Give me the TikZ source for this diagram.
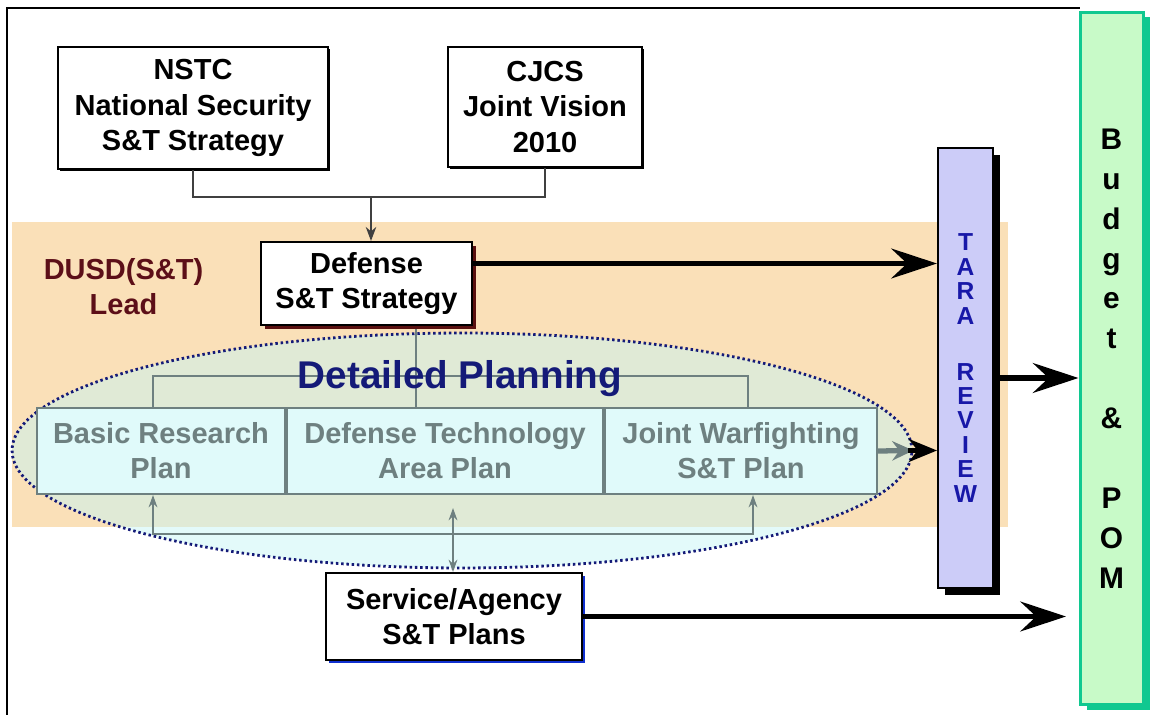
\documentclass[tikz,border=0pt]{standalone}
\usepackage{fontspec}
\setmainfont{Liberation Sans}
\usetikzlibrary{arrows.meta,shapes.geometric,shadows}
\pgfdeclarelayer{bg}
\pgfdeclarelayer{mid}
\pgfsetlayers{bg,mid,main}

\definecolor{peach}{RGB}{250,224,184}
\definecolor{navy}{RGB}{20,26,120}
\definecolor{planfill}{RGB}{224,250,250}
\definecolor{plangray}{RGB}{110,128,128}
\definecolor{lavender}{RGB}{204,204,248}
\definecolor{taratext}{RGB}{24,24,168}
\definecolor{budgetfill}{RGB}{200,250,200}
\definecolor{budgetedge}{RGB}{16,200,144}
\definecolor{leadred}{RGB}{92,15,24}
\definecolor{stratshade}{RGB}{90,16,16}
\definecolor{svcshade}{RGB}{16,48,208}

\tikzset{
	box/.style={draw=black, line width=1.2pt, fill=white, align=center, inner sep=0pt,
		font=\fontsize{16.5}{20}\selectfont\bfseries},
	plan/.style={draw=plangray, line width=1.2pt, fill=planfill, text=plangray, align=center,
		inner sep=0pt, minimum height=1.72cm, font=\fontsize{16.5}{20}\selectfont\bfseries},
	planline/.style={plangray, line width=0.9pt},
	planarrow/.style={planline, -{Stealth[length=7pt,width=5pt]}},
	feed/.style={black!75, line width=0.8pt},
	bigarrow/.style={line width=3pt, -{Stealth[length=26pt,width=17pt,inset=9pt]}},
	tara/.style={draw=black, line width=1.2pt, fill=lavender, text=taratext, align=center,
		inner sep=0pt, minimum width=1.1cm, minimum height=8.8cm, font=\fontsize{14}{13.9}\selectfont\bfseries,
		drop shadow={shadow xshift=4pt, shadow yshift=-4pt, fill=black, opacity=1}},
	budget/.style={draw=budgetedge, line width=1.7pt, fill=budgetfill, align=center,
		inner sep=0pt, minimum width=1.26cm, minimum height=13.86cm, font=\fontsize{17}{22.7}\selectfont\bfseries,
		drop shadow={shadow xshift=4pt, shadow yshift=-3pt, fill=budgetedge, opacity=1}},
}

\begin{document}
\begin{tikzpicture}[x=0.02cm, y=-0.02cm]
	\useasboundingbox (0,0) rectangle (1151,715);

	% frame
	\draw[line width=1.6pt] (7,715) -- (7,8) -- (1080,8);

	\node[box, minimum width=5.4cm, minimum height=2.44cm,
		drop shadow={shadow xshift=1pt, shadow yshift=-1pt, fill=black, opacity=1}] (nstc) at (193,108) {NSTC\\National Security\\S\&T Strategy};
	\node[box, minimum width=3.88cm, minimum height=2.4cm,
		drop shadow={shadow xshift=1pt, shadow yshift=-1pt, fill=black, opacity=1}] (cjcs) at (545,107) {CJCS\\Joint Vision\\2010};
	\node[box, minimum width=4.22cm, minimum height=1.66cm,
		drop shadow={shadow xshift=2.5pt, shadow yshift=-2.5pt, fill=stratshade, opacity=1}] (strat) at (366.5,283.5) {Defense\\S\&T Strategy};
	\node[align=center, text=leadred, font=\fontsize{16.5}{20}\selectfont\bfseries] (lead) at (123.5,287) {DUSD(S\&T)\\Lead};

	\node[plan, minimum width=4.96cm] (basic) at (161,451) {Basic Research\\Plan};
	\node[plan, minimum width=6.32cm] (dtap) at (445,451) {Defense Technology\\Area Plan};
	\node[plan, minimum width=5.44cm] (jwstp) at (741,451) {Joint Warfighting\\S\&T Plan};
	\node[text=navy, font=\fontsize{22}{26}\selectfont\bfseries] (dp) at (460,379) {Detailed Planning};

	\node[box, minimum width=5.12cm, minimum height=1.74cm,
		drop shadow={shadow xshift=1.5pt, shadow yshift=-1.5pt, fill=svcshade, opacity=1}] (svc) at (454,616.5) {Service/Agency\\S\&T Plans};

	\node[tara] (review) at (965.5,368) {T\\A\\R\\A\\[18pt]R\\E\\V\\I\\E\\W};
	\node[budget] (pom) at (1111.5,358.5) {B\\u\\d\\g\\e\\t\\[22.7pt]\&\\[22.7pt]P\\O\\M};

	\begin{pgfonlayer}{bg}
		\fill[peach] (12,222) rectangle (1008,527);
		\node[ellipse, draw=navy, line width=1.6pt, dash pattern=on 1.4pt off 1.6pt,
			fill={rgb,255:red,200;green,245;blue,245}, fill opacity=0.5,
			minimum width=18cm, minimum height=4.7cm] (detail) at (462,450.5) {};
	\end{pgfonlayer}

	\begin{pgfonlayer}{mid}
		\coordinate (hub) at (416,376);
		\coordinate (bus) at (453,534);
		\draw[planline] (hub |- strat.south) -- (hub |- dtap.north);
		\draw[planline] ([xshift=-0.16cm]basic.north) |- (hub) -| ([xshift=0.14cm]jwstp.north);
		\draw[planarrow] (bus) -| ([xshift=-0.16cm]basic.south);
		\draw[planarrow] (bus) -| ([xshift=0.24cm]jwstp.south);
		\draw[planline, {Stealth[length=7pt,width=5pt]}-{Stealth[length=7pt,width=5pt]}]
			([yshift=-0.26cm]dtap.south -| bus) -- (svc.north -| bus);
	\end{pgfonlayer}

	% inputs to the strategy
	\coordinate (merge) at (371,197);
	\draw[feed] (nstc.south) |- (merge);
	\draw[feed] (cjcs.south) |- (merge);
	\draw[feed, -{Stealth[length=8pt,width=6pt]}] (merge) -- (merge |- strat.north);

	% flows to review and budget
	\draw[bigarrow] ([yshift=0.4cm]strat.east) -- ([yshift=0.4cm]strat.east -| review.west);
	\draw[plangray, line width=3pt, -{Stealth[length=12pt,width=11pt,inset=4pt]}] (jwstp.east) -- (detail.east);
	\draw[line width=3pt, -{Stealth[length=16pt,width=13pt,inset=5pt]}] ([xshift=-3pt]detail.east) -- (detail.east -| review.west);
	\draw[bigarrow] ([yshift=-0.2cm]review.east) -- ([yshift=-0.2cm]review.east -| pom.west);
	\draw[bigarrow] (svc.east) -- ([xshift=-0.25cm]svc.east -| pom.west);

\end{tikzpicture}
\end{document}
